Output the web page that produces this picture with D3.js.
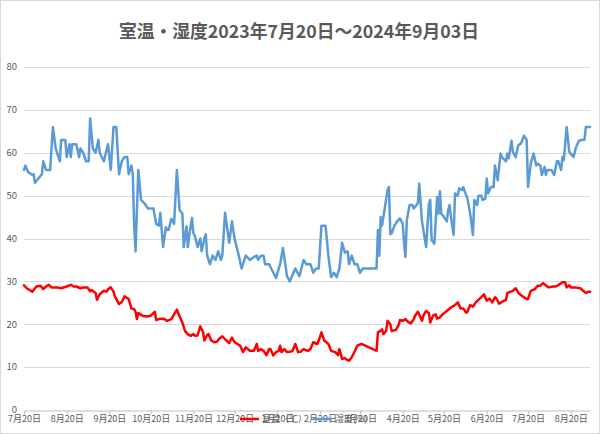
<!DOCTYPE html>
<html><head><meta charset="utf-8">
<script src="https://cdn.jsdelivr.net/npm/d3@7"></script>
<style>html,body{margin:0;padding:0;background:#fff;}svg{display:block;font-family:"Noto Sans CJK JP","Noto Sans",sans-serif;}</style>
</head><body>
<svg id="chart" width="600" height="434"></svg>
<script>
const title = "室温・湿度2023年7月20日～2024年9月03日";
const startDate = "2023-07-20";
const endDate = "2024-09-03";
const yTicks = [0,10,20,30,40,50,60,70,80];
const seriesNames = ["室温（℃）","湿度(%)"];

// days since 2023-07-20
const humDays = [0,1,3,6,7,8,10,13,14,16,19,21,23,26,27,30,31,33,34,35,38,40,41,43,45,47,48,50,52,54,55,58,61,63,65,67,69,71,73,75,76,78,79,80,81,83,85,88,90,94,96,98,99,101,103,104,105,107,109,111,113,115,116,118,119,120,122,123,124,126,128,129,131,132,133,135,137,139,141,143,144,146,149,151,153,156,158,161,164,167,169,170,172,174,175,178,183,186,188,191,193,197,200,203,205,208,210,212,214,216,219,221,223,225,227,229,231,233,235,236,238,240,242,244,246,256,257,258,259,260,264,265,266,267,269,271,273,275,276,277,278,280,282,283,286,287,289,292,294,295,296,298,300,301,302,303,305,307,308,309,310,312,313,315,316,318,319,320,322,324,326,327,329,330,332,333,335,336,337,339,341,342,344,346,347,350,351,352,354,355,357,359,361,363,365,366,368,370,372,373,375,376,378,379,380,383,385,387,388,390,391,392,394,396,397,399,401,403,405,407,408,411];
const humValues = [56,57,55.5,54.8,55,53,53.8,55,58,56,56,66,61,58,63,63,59,62,59,62,62,59,61,60,58,58,68,61,60,63,60,58,62,56,66,66,55,58,59,59,55,57,55,43,37,56,49,48,47,47,43.4,43,46,38,42.6,42,42,44.6,43.4,56,46.6,45.8,38,42.8,38,40.7,44.8,41.2,40.7,38,40,37,40,41,36,34,36,35,37,35,36,46,39,44,39.8,36,33,36,35,35.7,36,35,36,36,34,34,30.8,34,37.8,31.2,30,33,31.2,35,34,34,32,33,33,43,43,36,31,32,31,33,39,36.7,37,34,36,34,34,32,33,33,42,36,45,43,51.3,52,41,41.2,43,44,44.7,43.5,38.8,35.7,44.3,47.8,47.8,47,48.2,52.8,44,38,48,49,39.6,38.8,49.7,45.8,51,45.8,45,44,46.6,47.8,45,40.8,50.5,50,51.7,51.3,52,51,49.3,45.8,40.8,49,47.8,50,50,49,49.3,54,50.5,52,52,57,53.6,59.8,59,58,59.8,58.7,62.8,60.2,59,61.8,62.2,64,63,52,57.5,59.8,57,57.5,57,54.8,56.7,54.8,56,56,54.8,58,58,56,59,58.3,66,60.2,59.8,59,61.4,62.8,63,63,66,66];

const tempDays = [0,2,6,9,12,14,16,18,20,24,27,31,34,36,38,41,43,46,48,49,52,53,55,58,60,61,63,65,66,69,71,73,76,78,80,81,82,83,86,89,92,95,96,99,102,104,107,109,111,113,115,117,119,121,123,124,126,128,130,131,133,134,136,138,140,142,144,146,149,151,153,157,159,161,164,167,169,170,172,174,176,178,179,181,183,185,186,187,189,191,193,195,197,199,201,203,206,208,210,213,214,216,218,221,223,226,228,229,231,233,234,236,238,240,242,245,256,257,259,260,261,263,264,266,267,270,272,273,275,277,279,281,283,284,286,287,289,290,292,294,295,297,299,300,302,304,307,310,312,313,315,317,319,321,322,324,326,328,330,333,334,336,338,340,342,343,345,347,350,351,355,357,359,362,365,366,368,371,373,375,377,379,381,384,386,388,391,393,394,396,397,400,404,406,408,410,411];
const tempValues = [29.1,28.4,27.6,28.8,29,28.2,28.8,29.2,28.6,28.6,28.4,28.8,29.2,28.8,28.8,28.4,28.6,28.6,27.7,28,27.3,25.7,27,27.8,27.6,28.2,28.6,27.6,26.5,24.7,25.2,26.5,25.9,23.7,23.5,22.9,21.2,22.6,22,21.8,22,22.9,21,21.3,21.2,20.8,21.2,22.3,23.4,21.8,20.4,18.4,17.7,17.3,17.7,17.3,17.4,19.5,18.2,16.2,17.5,17.7,16.2,15.8,15.9,16.7,17.2,16.5,15.6,16.9,15.8,15,13.5,14.6,13.8,13.8,15.4,13.8,14.2,13.8,12.8,14.2,14.2,12.7,13.5,13.8,15,13.5,14.2,13.5,13.6,13.8,15.4,13.5,13.6,14.2,13.8,14.2,15.8,15.4,16.2,18.1,16.2,15.4,13.8,13.5,12.8,14.2,11.9,12.1,11.8,11.5,12.3,13.6,15,15.4,13.8,18.1,18.5,18.8,17.7,18.5,20.8,20,18.4,18.7,19.8,21,20.8,21.2,20.5,20.2,21.2,22,22.9,22.3,20.8,22,23.1,22.6,20.4,22,22.3,21.3,21.6,22.3,23.1,23.9,24.3,24.5,25.1,23.7,23.7,22.7,22.9,24.5,24.1,25.1,25.7,26.6,27,25.5,26,25.1,26.3,26,24.8,25.2,25.7,27.3,27.8,28.4,27.3,26.5,25.9,25.9,27.8,28.2,29,29,29.6,29,28.6,28.8,28.8,29.1,29.8,29.8,28.6,29.1,28.6,28.6,28.4,27.8,27.3,27.6,27.6];

const colors = ["#FF0000", "#5B9BD5"];

const svg = d3.select("#chart");
const W = 600, H = 434;
const m = {left: 24, right: 10, top: 67, bottom: 24};

svg.append("rect").attr("x",0.5).attr("y",0.5).attr("width",W-1).attr("height",H-1)
  .attr("fill","#fff").attr("stroke","#D9D9D9");

const parse = d3.utcParse("%Y-%m-%d");
const t0 = parse(startDate), t1 = parse(endDate);
const x = d3.scaleUtc().domain([t0, t1]).range([m.left, W - m.right]);
const y = d3.scaleLinear().domain([0, 80]).range([H - m.bottom, m.top]);

// gridlines
svg.append("g").selectAll("line").data(yTicks.filter(v => v > 0)).join("line")
  .attr("x1", m.left).attr("x2", W - m.right)
  .attr("y1", d => Math.round(y(d)) + 0.5).attr("y2", d => Math.round(y(d)) + 0.5)
  .attr("stroke", "#D9D9D9").attr("stroke-width", 1);

// y labels
svg.append("g").selectAll("text").data(yTicks).join("text")
  .attr("x", 17).attr("y", d => y(d)).attr("dy", "0.35em")
  .attr("text-anchor", "end").attr("font-size", 9.5).attr("fill", "#595959")
  .text(d => d);

// x axis
const xTicks = d3.utcMonths(t0, t1).map(d => d3.utcDay.offset(d3.utcMonth.floor(d), 19)).filter(d => d >= t0 && d <= t1);
if (xTicks[0] > t0) xTicks.unshift(t0);
const fmt = d => (d.getUTCMonth() + 1) + "月" + d.getUTCDate() + "日";
const xAxis = d3.axisBottom(x).tickValues(xTicks).tickFormat(fmt).tickSize(4).tickSizeOuter(0);
const gx = svg.append("g").attr("transform", `translate(0,${Math.round(y(0)) + 0.5})`).call(xAxis);
gx.select(".domain").attr("stroke", "#BFBFBF");
gx.selectAll(".tick line").attr("stroke", "#BFBFBF");
gx.selectAll(".tick text").attr("font-size", 9).attr("fill", "#595959").attr("dy", "0.55em")
  .attr("font-family", '"Noto Sans CJK JP", sans-serif');

// lines
const line = d3.line().x(d => x(d[0])).y(d => y(d[1])).curve(d3.curveLinear);
const mk = (days, vals) => days.map((d, i) => [d3.utcDay.offset(t0, d), vals[i]]);
const series = [mk(tempDays, tempValues), mk(humDays, humValues)];
svg.append("g").selectAll("path").data(series).join("path")
  .attr("d", line).attr("fill", "none")
  .attr("stroke", (d, i) => colors[i]).attr("stroke-width", 2.5)
  .attr("stroke-linejoin", "round").attr("stroke-linecap", "round");

// title
svg.append("text").attr("x", 299).attr("y", 32).attr("dy", "0.35em")
  .attr("text-anchor", "middle").attr("font-size", 17.8).attr("font-weight", "bold")
  .attr("fill", "#595959").text(title);

// legend
const lg = svg.append("g");
const legX = [240, 313];
seriesNames.forEach((n, i) => {
  lg.append("line").attr("x1", legX[i]).attr("x2", legX[i] + 19).attr("y1", 419).attr("y2", 419)
    .attr("stroke", colors[i]).attr("stroke-width", 2.5);
  lg.append("text").attr("x", legX[i] + 22).attr("y", 419).attr("dy", "0.35em")
    .attr("font-size", 9).attr("fill", "#595959").text(n);
});
</script>
</body></html>
